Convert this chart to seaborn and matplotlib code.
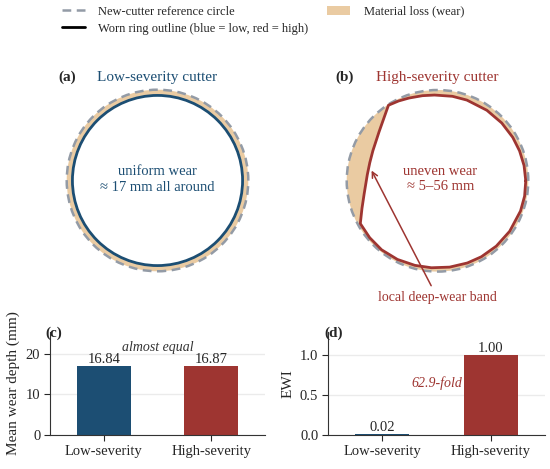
import numpy as np
import pandas as pd
import matplotlib
matplotlib.use('Agg')
import matplotlib.pyplot as plt
from matplotlib.patches import Circle, Patch
from matplotlib.lines import Line2D
import seaborn as sns

# ===== DATA =====
categories = ['Low-severity', 'High-severity']
mean_wear = [16.84, 16.87]          # mm
ewi = [0.0159, 1.00]                # equivalent wear index (normalised)

# worn ring outline, normalised radius (new cutter = 1)
low_worn_radius = 0.937
high_angles = [0, 10, 20, 30, 42, 55, 70, 80, 92, 100, 109, 116, 123,
               140, 155, 165, 175, 190, 200, 209, 220, 231, 243, 255,
               266, 278, 290, 300, 312, 325, 340, 350]
high_radius = [0.972, 0.968, 0.962, 0.957, 0.952, 0.948, 0.946, 0.945,
               0.945, 0.952, 0.964, 0.978, 0.992, 0.840, 0.785, 0.772,
               0.776, 0.820, 0.885, 0.972, 0.975, 0.978, 0.972, 0.964,
               0.960, 0.960, 0.963, 0.966, 0.968, 0.970, 0.973, 0.974]

BLUE = '#1c4e73'
RED = '#9e3531'
BEIGE = '#eacba2'
GREY = '#939ba6'

# ===== STYLE =====
sns.set_style('ticks')
plt.rcParams['font.family'] = ['Liberation Serif', 'DejaVu Serif']
plt.rcParams['axes.edgecolor'] = '#333333'

fig = plt.figure(figsize=(5.5, 4.69), dpi=100)
W, H = 550, 469


def px_axes(left, top, width, height):
    return fig.add_axes([left / W, 1 - (top + height) / H, width / W, height / H])


# ===== TOP: ring outlines =====
lim = 1.05
size = 2 * lim * 90.8
ax_a = px_axes(157.5 - size / 2, 180.5 - size / 2, size, size)
ax_b = px_axes(437.5 - size / 2, 180.8 - size / 2, size, size)

for ax in (ax_a, ax_b):
    ax.add_patch(Circle((0, 0), 1.0, facecolor=BEIGE, edgecolor='none', zorder=1))
    ax.set_xlim(-lim, lim)
    ax.set_ylim(-lim, lim)
    ax.set_aspect('equal')
    ax.axis('off')

# (a) uniform wear
ax_a.add_patch(Circle((0, 0), low_worn_radius, facecolor='white', edgecolor=BLUE,
                      lw=2.0, zorder=2))
ax_a.add_patch(Circle((0, 0), 1.0, fill=False, edgecolor=GREY, lw=1.8,
                      ls=(0, (3.5, 2.2)), zorder=3))
ax_a.text(0, 0.01, 'uniform wear\n\u2248 17 mm all around', ha='center', va='center',
          color=BLUE, fontsize=10.5, linespacing=1.25)
ax_a.set_title('Low-severity cutter', color=BLUE, fontsize=11, pad=3)

# (b) uneven wear
th = np.deg2rad(high_angles + [high_angles[0]])
rr = np.array(high_radius + [high_radius[0]])
hx, hy = rr * np.cos(th), rr * np.sin(th)
ax_b.fill(hx, hy, color='white', zorder=2)
ax_b.add_patch(Circle((0, 0), 1.0, fill=False, edgecolor=GREY, lw=1.8,
                      ls=(0, (3.5, 2.2)), zorder=3))
ax_b.plot(hx, hy, color=RED, lw=2.0, zorder=4, solid_joinstyle='round')
ax_b.text(0.03, 0.02, 'uneven wear\n\u2248 5\u201356 mm', ha='center', va='center',
          color=RED, fontsize=10.5, linespacing=1.25)
ax_b.set_title('High-severity cutter', color=RED, fontsize=11, pad=3)
ax_b.annotate('local deep-wear band', xy=(-0.74, 0.14), xytext=(0.0, -1.29),
              ha='center', va='center', color=RED, fontsize=10,
              arrowprops=dict(arrowstyle='->', color=RED, lw=1.1),
              annotation_clip=False)

# legend
handles = [Line2D([], [], color=GREY, lw=1.8, ls=(0, (3.5, 2.2))),
           Line2D([], [], color='black', lw=2.0),
           Patch(facecolor=BEIGE, edgecolor='none')]
labels = ['New-cutter reference circle',
          'Worn ring outline (blue = low, red = high)',
          'Material loss (wear)']
fig.legend(handles, labels, loc='upper center', bbox_to_anchor=(263 / W, 1.012),
           ncol=2, frameon=False, fontsize=9, handlelength=1.8,
           handletextpad=1.1, columnspacing=1.5, labelspacing=0.4)

# ===== BOTTOM: bars =====
df = pd.DataFrame({'group': categories, 'wear': mean_wear, 'ewi': ewi})
ax_c = px_axes(50, 332, 215, 103)
ax_d = px_axes(328, 332, 217, 103)

for ax, col in ((ax_c, 'wear'), (ax_d, 'ewi')):
    sns.barplot(data=df, x='group', y=col, hue='group', palette=[BLUE, RED],
                width=0.5, linewidth=0, saturation=1, legend=False, ax=ax)
    for cont in ax.containers:
        ax.bar_label(cont, fmt='%.2f', fontsize=10.5, padding=0)
    ax.set_xlabel('')
    ax.yaxis.grid(True, color='#ebebeb', lw=1)
    ax.set_axisbelow(True)
    ax.tick_params(labelsize=10.5, length=4, width=0.8, pad=3)
    sns.despine(ax=ax)

ax_c.set_ylim(0, 25.3)
ax_c.set_yticks([0, 10, 20])
ax_c.set_ylabel('Mean wear depth (mm)', fontsize=11)
ax_c.text(0.5, 21.4, 'almost equal', ha='center', va='center', style='italic',
          fontsize=10, color='#333333')

ax_d.set_ylim(0, 1.28)
ax_d.set_yticks([0.0, 0.5, 1.0])
ax_d.set_ylabel('EWI', fontsize=11)
ax_d.text(0.5, 0.64, '62.9-fold', ha='center', va='center', style='italic',
          fontsize=10, color=RED)

# panel labels
for lab, x, y in (('(a)', 58, 77), ('(b)', 335, 77), ('(c)', 45, 333), ('(d)', 324, 333)):
    fig.text(x / W, 1 - y / H, lab, fontweight='bold', fontsize=11, ha='left', va='center')

fig.savefig('out.png', dpi=100)
